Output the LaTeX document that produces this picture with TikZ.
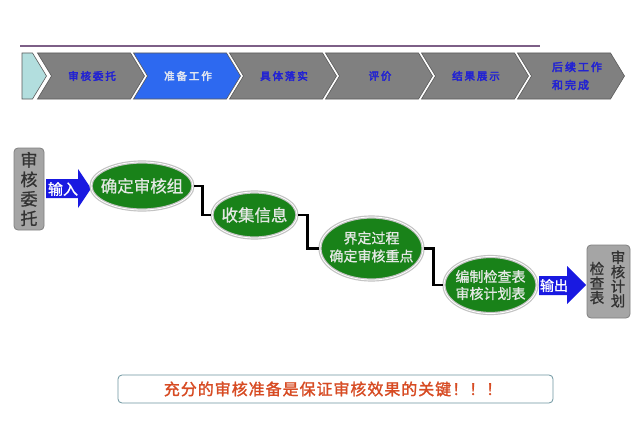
\documentclass[tikz,border=0pt]{standalone}
\usepackage{fontspec}
\setmainfont[FakeBold=1]{Noto Sans CJK SC}
\newfontfamily\hdfont[FakeBold=3.5,LetterSpace=18]{Noto Sans CJK SC}
\newfontfamily\keyfont[FakeBold=1.5,LetterSpace=6]{Noto Sans CJK SC}
\usetikzlibrary{shapes.geometric}
\definecolor{hdline}{RGB}{125,95,135}
\definecolor{tealc}{RGB}{178,222,222}
\definecolor{chevgray}{RGB}{128,128,128}
\definecolor{chevblue}{RGB}{45,105,240}
\definecolor{chevedge}{RGB}{90,90,90}
\definecolor{hdblue}{RGB}{35,35,210}
\definecolor{hdwhite}{RGB}{225,230,240}
\definecolor{arrblue}{RGB}{25,25,225}
\definecolor{ovgreen}{RGB}{25,130,25}
\definecolor{ovring}{RGB}{195,195,195}
\definecolor{ovtext}{RGB}{228,232,228}
\definecolor{boxfill}{RGB}{165,165,165}
\definecolor{boxedge}{RGB}{128,128,128}
\definecolor{boxtext}{RGB}{50,50,50}
\definecolor{keyedge}{RGB}{110,150,160}
\definecolor{keytext}{RGB}{215,75,35}
\begin{document}
\begin{tikzpicture}[x=1pt,y=-1pt,
  hdlabel/.style={font=\hdfont\fontsize{10.5}{12}\selectfont, inner sep=0},
  oval/.style={ellipse, fill=ovgreen, draw=ovring, line width=1.2pt, double=white, double distance=0.8pt, inner sep=0},
  ovlabel/.style={text=ovtext, align=center, inner sep=0},
  vbox/.style={rounded corners=4pt, fill=boxfill, draw=boxedge, line width=0.8pt, inner sep=0},
  vtext/.style={text=boxtext, align=center, inner sep=0},
  conn/.style={line width=2.5pt, black},
  blockarrow/.style={fill=arrblue},
  arrlabel/.style={text=white, font=\fontsize{15}{15}\selectfont, inner sep=0}
]
\useasboundingbox[fill=white] (0,0) rectangle (640,436);

% header
\draw[hdline, line width=1.8pt] (20,46) -- (540,46);
\filldraw[fill=tealc, draw=chevedge, line width=0.6pt] (22,53) -- (32.5,53) -- (46.5,76) -- (32.5,99) -- (22,99) -- cycle;
\foreach \i/\txt/\col/\tcol in {0/审核委托/chevgray/hdblue,1/准备工作/chevblue/hdwhite,2/具体落实/chevgray/hdblue,3/评价/chevgray/hdblue,4/结果展示/chevgray/hdblue,5//chevgray/hdblue}{
  \pgfmathsetmacro\xa{36+96*\i}
  \filldraw[fill=\col, draw=chevedge, line width=0.6pt]
    ({\xa+1.5},53) -- ({\xa+94.5},53) -- ({\xa+108.5},76) -- ({\xa+94.5},99) -- ({\xa+1.5},99) -- ({\xa+15.5},76) -- cycle;
  \node[hdlabel, text=\tcol] (hd\i) at ({\xa+56},76) {\txt};
}
\node[hdlabel, text=hdblue, align=left, font=\hdfont\fontsize{11}{18}\selectfont] (hdlast) at (577,76) {后续工作\\和完成};

% source box
\node[vbox, minimum width=30pt, minimum height=82pt] (src) at (29,189) {};
\node[vtext, font=\fontsize{17}{19.5}\selectfont] (srct) at (src.center) {审\\核\\委\\托};

% input arrow
\fill[blockarrow] (46,179) -- (78,179) -- (78,169) -- (91,188.5) -- (78,208) -- (78,198) -- (46,198) -- cycle;
\node[arrlabel] (inlab) at (63,189) {输入};

% ovals
\node[oval, minimum width=102pt, minimum height=48pt] (e1) at (142,186) {};
\node[ovlabel, font=\fontsize{16.5}{18}\selectfont] (e1t) at (e1.center) {确定审核组};
\node[oval, minimum width=85pt, minimum height=46pt] (e2) at (254.5,215) {};
\node[ovlabel, font=\fontsize{16.5}{18}\selectfont] (e2t) at (e2.center) {收集信息};
\node[oval, minimum width=103pt, minimum height=63pt] (e3) at (371.5,248.5) {};
\node[ovlabel, font=\fontsize{14}{18}\selectfont] (e3t) at ([yshift=1.5pt]e3.center) {界定过程\\确定审核重点};
\node[oval, minimum width=93pt, minimum height=57pt] (e4) at (490.5,285) {};
\node[ovlabel, font=\fontsize{14}{17}\selectfont] (e4t) at (e4.center) {编制检查表\\审核计划表};

% connectors
\draw[conn] (e1.east) -- ++(9,0) |- (e2.west);
\draw[conn] (e2.east) -- ++(10,0) |- (e3.west);
\draw[conn] (e3.east) -- ++(10,0) |- (e4.west);

% output arrow
\fill[blockarrow] (539,276) -- (567,276) -- (567,266) -- (586,285) -- (567,304) -- (567,295) -- (539,295) -- cycle;
\node[arrlabel, font=\fontsize{14}{14}\selectfont] (outlab) at (554,285.5) {输出};

% destination box
\node[vbox, minimum width=43pt, minimum height=73pt] (dst) at (608.5,281.5) {};
\node[vtext, font=\fontsize{14.5}{14.5}\selectfont] (dstr) at (618,279) {审\\核\\计\\划};
\node[vtext, font=\fontsize{14.5}{14.5}\selectfont] (dstl) at (597,283) {检\\查\\表};

% key message
\node[draw=keyedge, line width=0.8pt, rounded corners=4pt, minimum width=435pt, minimum height=28pt, inner sep=0] (key) at (335.5,389) {};
\node[text=keytext, font=\keyfont\fontsize{16}{16}\selectfont, inner sep=0] (keyt) at (333,389) {充分的审核准备是保证审核效果的关键！！！};
\end{tikzpicture}
\end{document}
